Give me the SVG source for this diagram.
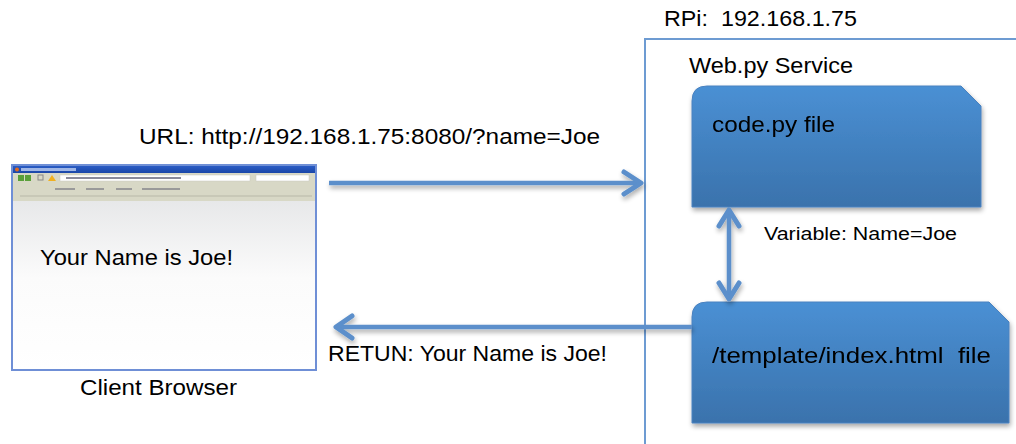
<svg xmlns="http://www.w3.org/2000/svg" width="1016" height="444" viewBox="0 0 1016 444">
<defs>
<style>
.t{font-family:"Liberation Sans",Arial,sans-serif;fill:#000;white-space:pre;}
.big{font-size:22px;}
.sm{font-size:17.5px;}
.conn{stroke:#5b8fcb;stroke-width:4.5;fill:none;}
.head{stroke:#5b8fcb;stroke-width:5;fill:none;stroke-linecap:round;stroke-linejoin:round;}
.file{fill:url(#fileGrad);stroke:#4a82c0;stroke-width:1;}
</style>
<linearGradient id="fileGrad" x1="0" y1="0" x2="0" y2="1">
<stop offset="0" stop-color="#4a90d4"/>
<stop offset="1" stop-color="#3a72ac"/>
</linearGradient>
<linearGradient id="pageGrad" x1="0" y1="0" x2="0" y2="1">
<stop offset="0" stop-color="#dedfe1"/>
<stop offset="0.55" stop-color="#fbfbfb"/>
<stop offset="1" stop-color="#ffffff"/>
</linearGradient>
<linearGradient id="titleGrad" x1="0" y1="0" x2="0" y2="1">
<stop offset="0" stop-color="#2a5cc4"/>
<stop offset="1" stop-color="#1a46a8"/>
</linearGradient>
<filter id="sh" x="-10%" y="-10%" width="120%" height="130%">
<feGaussianBlur in="SourceAlpha" stdDeviation="2.5"/>
<feOffset dx="1" dy="3" result="b"/>
<feComponentTransfer><feFuncA type="linear" slope="0.35"/></feComponentTransfer>
<feMerge><feMergeNode/><feMergeNode in="SourceGraphic"/></feMerge>
</filter>
</defs>
<rect width="1016" height="444" fill="#fff"/>

<g id="rpi">
<rect x="645" y="39" width="400" height="420" fill="none" stroke="#6d9bd2" stroke-width="2"/>
<text class="t big" x="664" y="26" textLength="193" lengthAdjust="spacingAndGlyphs">RPi:  192.168.1.75</text>
<text class="t big" x="689" y="73" textLength="164" lengthAdjust="spacingAndGlyphs">Web.py Service</text>
</g>

<g id="browser">
<rect x="12" y="165" width="304" height="205" fill="url(#pageGrad)" stroke="#6f8fd6" stroke-width="2"/>
<rect x="13" y="166" width="302" height="7" fill="url(#titleGrad)"/>
<circle cx="17" cy="169.5" r="2" fill="#e06a20"/>
<rect x="21" y="168" width="55" height="3" fill="#9fb6e6"/>
<rect x="13" y="173" width="302" height="28" fill="#d8d8c6"/>
<rect x="18" y="175" width="6" height="6" fill="#5aa03a"/>
<rect x="25" y="175" width="6" height="6" fill="#5aa03a"/>
<rect x="38" y="175" width="5" height="5" fill="none" stroke="#888" stroke-width="1"/>
<path d="M48 181 L52 175 L56 181 Z" fill="#f0b020"/>
<rect x="60" y="175" width="190" height="6" fill="#fff" stroke="#c8c8c0" stroke-width="0.5"/>
<rect x="66" y="177" width="115" height="2" fill="#8a8a9a"/>
<rect x="256" y="175" width="53" height="6" fill="#fff" stroke="#c8c8c0" stroke-width="0.5"/>
<g fill="#9a9a9a">
<rect x="55" y="188" width="20" height="2"/>
<rect x="86" y="188" width="18" height="2"/>
<rect x="116" y="188" width="16" height="2"/>
<rect x="142" y="188" width="38" height="2"/>
</g>
<line x1="20" y1="196" x2="312" y2="196" stroke="#b8b8a8" stroke-width="1"/>
<text class="t big" x="40" y="265" textLength="193" lengthAdjust="spacingAndGlyphs">Your Name is Joe!</text>
<text class="t big" x="80" y="395" textLength="157" lengthAdjust="spacingAndGlyphs">Client Browser</text>
</g>

<g id="codepy" filter="url(#sh)">
<path class="file" d="M692 207 L692 101 Q692 86 707 86 L961 86 L981 106 L981 207 Z"/>
<text class="t big" x="712" y="132" textLength="123" lengthAdjust="spacingAndGlyphs">code.py file</text>
</g>

<g id="indexhtml" filter="url(#sh)">
<path class="file" d="M692 423 L692 317 Q692 302 707 302 L989 302 L1009 322 L1009 423 Z"/>
<text class="t big" x="712" y="363" textLength="279" lengthAdjust="spacingAndGlyphs">/template/index.html  file</text>
</g>

<g id="connectors" filter="url(#sh)">
<line class="conn" x1="329" y1="183" x2="641" y2="183"/>
<path class="head" d="M624 172 L641 183 L624 194"/>
<line class="conn" x1="692" y1="327" x2="337" y2="327"/>
<path class="head" d="M352 316 L336 327 L352 338"/>
<line class="conn" x1="729" y1="211" x2="729" y2="298"/>
<path class="head" d="M719 226 L729 210 L739 226"/>
<path class="head" d="M719 283 L729 299 L739 283"/>
</g>
<text class="t big" x="139" y="144" textLength="461" lengthAdjust="spacingAndGlyphs">URL: http://192.168.1.75:8080/?name=Joe</text>
<text class="t big" x="328" y="361" textLength="279" lengthAdjust="spacingAndGlyphs">RETUN: Your Name is Joe!</text>
<text class="t sm" x="764" y="240" textLength="193" lengthAdjust="spacingAndGlyphs">Variable: Name=Joe</text>
</svg>
